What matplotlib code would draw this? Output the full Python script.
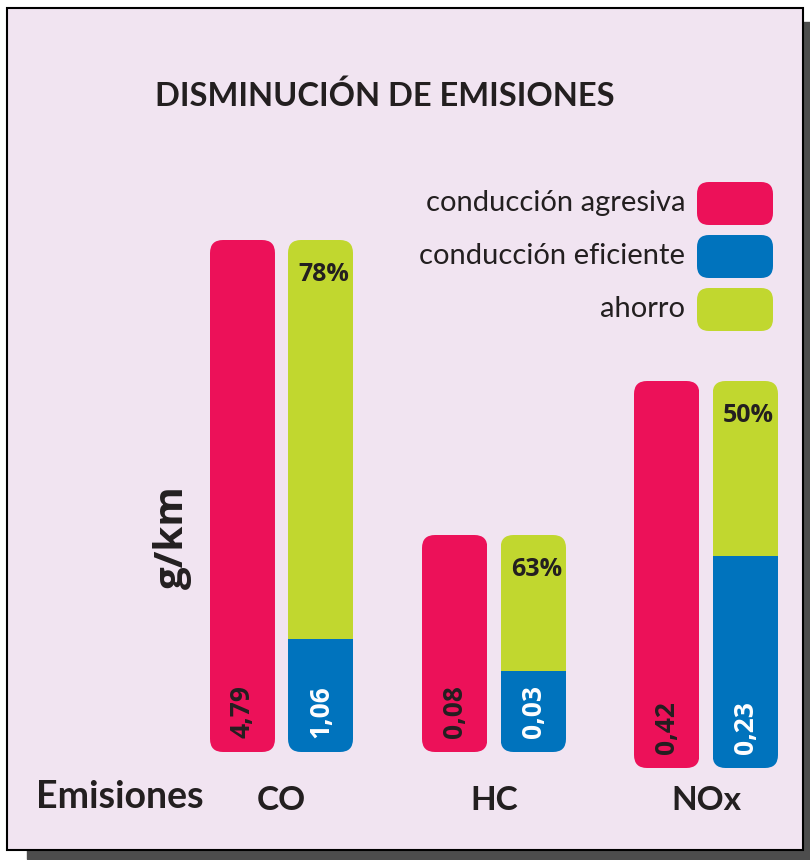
import matplotlib.pyplot as plt
from matplotlib.patches import FancyBboxPatch, Rectangle

# datos
grupos = ['CO', 'HC', 'NOx']
agresiva = [4.79, 0.08, 0.42]
eficiente = [1.06, 0.03, 0.23]
ahorro_pct = [78, 63, 50]
leyenda = ['conducción agresiva', 'conducción eficiente', 'ahorro']

RED = '#ec1159'
BLUE = '#0073bd'
GREEN = '#c1d72f'
BG = '#f1e4f1'
INK = '#231f20'
W, H = 810, 860

fig = plt.figure(figsize=(W / 100, H / 100), dpi=100)

# capa de fondo en pixeles
bg = fig.add_axes([0, 0, 1, 1])
bg.set_xlim(0, W)
bg.set_ylim(H, 0)
bg.axis('off')
bg.add_patch(Rectangle((27, 22), 783, 837, color='#4d4d4d'))
bg.add_patch(Rectangle((7, 8), 796, 842, facecolor=BG, edgecolor='black', lw=1.5))

bg.text(385, 96, 'DISMINUCIÓN DE EMISIONES', ha='center', va='center',
        fontsize=23.5, fontweight='bold', family='Lato', color=INK)
bg.text(172, 537, 'g/km', rotation=90, ha='center', va='center',
        fontsize=29, fontweight='bold', family='Open Sans', color=INK)
bg.text(36, 797, 'Emisiones', ha='left', va='center',
        fontsize=27, fontweight='bold', family='Lato', color=INK)

# leyenda
for i, (lab, col) in enumerate(zip(leyenda, [RED, BLUE, GREEN])):
    y = 182 + i * 53
    bg.add_patch(FancyBboxPatch((697, y), 76, 43, boxstyle='round,pad=0,rounding_size=12',
                                facecolor=col, edgecolor='none'))
    bg.text(685, y + 21, lab, ha='right', va='center', fontsize=21,
            family='Lato', color=INK)

# cajas de cada grupo (left, top, right, bottom) en pixeles
cajas = [(210, 240, 353, 752), (422, 535, 566, 752), (634, 381, 778, 768)]
w = 0.833


def redondeado(ax, x, h, r_px=13):
    x0, x1 = ax.get_xlim()
    y0, y1 = ax.get_ylim()
    pos = ax.get_position()
    dx = (x1 - x0) / (pos.width * W)
    dy = (y1 - y0) / (pos.height * H)
    p = FancyBboxPatch((x - w / 2, 0), w, h,
                       boxstyle=f'round,pad=0,rounding_size={r_px * dx}',
                       mutation_aspect=dy / dx)
    p.set_transform(ax.transData)
    return p


def fmt(v):
    return f'{v:.2f}'.replace('.', ',')


for i, g in enumerate(grupos):
    l, t, r, b = cajas[i]
    ax = fig.add_axes([l / W, 1 - b / H, (r - l) / W, (b - t) / H])
    ax.set_xlim(-w / 2, 1 + w / 2)
    ax.set_ylim(0, agresiva[i])
    ax.axis('off')

    ahorro = agresiva[i] - eficiente[i]
    b_red = ax.bar(0, agresiva[i], w, color=RED)
    b_blue = ax.bar(1, eficiente[i], w, color=BLUE)
    b_green = ax.bar(1, ahorro, w, bottom=eficiente[i], color=GREEN)
    b_red[0].set_clip_path(redondeado(ax, 0, agresiva[i]))
    clip = redondeado(ax, 1, eficiente[i] + ahorro)
    b_blue[0].set_clip_path(clip)
    b_green[0].set_clip_path(clip)

    ax.annotate(fmt(agresiva[i]), xy=(0, 0), xytext=(0, 14), textcoords='offset pixels',
                rotation=90, ha='center', va='bottom', fontsize=19,
                fontweight='bold', family='Open Sans', color=INK)
    ax.annotate(fmt(eficiente[i]), xy=(1, 0), xytext=(0, 14), textcoords='offset pixels',
                rotation=90, ha='center', va='bottom', fontsize=19,
                fontweight='bold', family='Open Sans', color='white')
    ax.annotate(f'{ahorro_pct[i]}%', xy=(1 + w / 2, agresiva[i]), xytext=(-4, -22),
                textcoords='offset pixels', ha='right', va='top', fontsize=18,
                family='Open Sans', fontweight='bold', color=INK)

    bg.text((l + r) / 2, 800, g, ha='center', va='center', fontsize=24,
            fontweight='bold', family='Lato', color=INK)

fig.savefig('out.png', dpi=100, facecolor='white')
